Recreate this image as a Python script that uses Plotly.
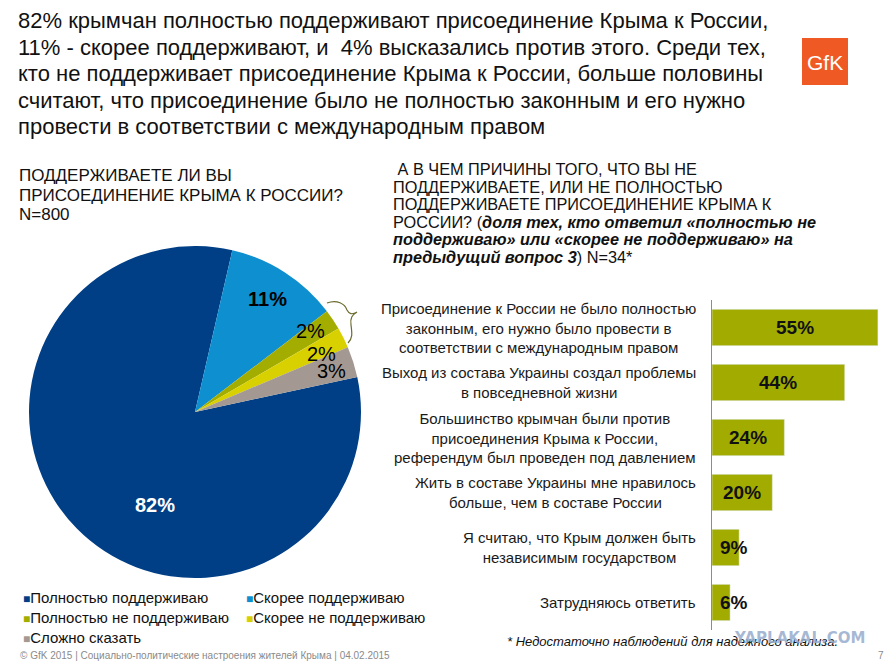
import math
import plotly.graph_objects as go

# the page body has an 8px default margin, so the figure is drawn 8px in from the corner
OFF = 8
W, H = 893 - OFF, 669 - OFF
FONT = "Arial, Liberation Sans, sans-serif"

# ---------- data ----------
pie_labels = ["Полностью поддерживаю", "Скорее поддерживаю", "Полностью не поддерживаю",
              "Скорее не поддерживаю", "Сложно сказать"]
pie_values = [82, 11, 2, 2, 3]
pie_colors = ["#003f86", "#0e8fd0", "#a3ad00", "#d9d000", "#a39892"]

bar_labels = [
    "Присоединение к России не было полностью<br>законным, его нужно было провести в<br>соответствии с международным правом",
    "Выход из состава Украины создал проблемы<br>в повседневной жизни",
    "Большинство крымчан были против<br>присоединения Крыма к России,<br>референдум был проведен под давлением",
    "Жить в составе Украины мне нравилось<br>больше, чем в составе России",
    "Я считаю, что Крым должен быть<br>независимым государством",
    "Затрудняюсь ответить",
]
bar_values = [55, 44, 24, 20, 9, 6]
BAR_COLOR = "#a2ac00"

title_lines = [
    "82% крымчан полностью поддерживают присоединение Крыма к России,",
    "11% - скорее поддерживают, и  4% высказались против этого. Среди тех,",
    "кто не поддерживает присоединение Крыма к России, больше половины",
    "считают, что присоединение было не полностью законным и его нужно",
    "провести в соответствии с международным правом",
]
left_q = ["ПОДДЕРЖИВАЕТЕ ЛИ ВЫ", "ПРИСОЕДИНЕНИЕ КРЫМА К РОССИИ?", "N=800"]
right_q = [
    "\u00a0А В ЧЕМ ПРИЧИНЫ ТОГО, ЧТО ВЫ НЕ",
    "ПОДДЕРЖИВАЕТЕ, ИЛИ НЕ ПОЛНОСТЬЮ",
    "ПОДДЕРЖИВАЕТЕ ПРИСОЕДИНЕНИЕ КРЫМА К",
    "РОССИИ? (<b><i>доля тех, кто ответил «полностью не</i></b>",
    "<b><i>поддерживаю» или «скорее не поддерживаю» на</i></b>",
    "<b><i>предыдущий вопрос 3</i></b>) N=34*",
]


def px(x):
    return (x - OFF) / W


def py(y):
    return 1 - (y - OFF) / H


# ---------- layout geometry (screen pixels) ----------
PIE_CX, PIE_CY, PIE_R = 195, 412, 166
BAR_X0 = 712
BAR_TOP, BAR_BOTTOM = 300, 630

fig = go.Figure()

total = sum(pie_values)
rotation = 13 + 360 * sum(pie_values[1:]) / total
fig.add_trace(go.Pie(
    labels=pie_labels, values=pie_values, sort=False, direction="clockwise",
    rotation=rotation, textinfo="none", hoverinfo="label+percent",
    marker=dict(colors=pie_colors, line=dict(width=0)),
    domain=dict(x=[px(PIE_CX - PIE_R), px(PIE_CX + PIE_R)],
                y=[py(PIE_CY + PIE_R), py(PIE_CY - PIE_R)]),
    showlegend=False,
))

fig.add_trace(go.Bar(
    x=bar_values, y=list(range(len(bar_values))), orientation="h",
    marker=dict(color=BAR_COLOR), width=0.66, hoverinfo="x",
    showlegend=False,
))

ann = []

# pie value labels
label_r = [0.61, 0.81, 0.85, 0.84, 0.86]
label_shift = [-22, 0, -1, 2, 1]
label_style = [("white", True), ("black", True), ("black", False), ("black", False), ("black", False)]
cum = 0
for v, rf, sh, (col, bold) in zip(pie_values, label_r, label_shift, label_style):
    mid = math.radians(rotation + 360 * (cum + v / 2) / total + sh)
    cum += v
    lx = PIE_CX + rf * PIE_R * math.sin(mid)
    ly = PIE_CY - rf * PIE_R * math.cos(mid)
    t = f"{v}%"
    ann.append(dict(x=px(lx), y=py(ly), xref="paper", yref="paper", showarrow=False,
                    xanchor="center", yanchor="middle",
                    text=f"<b>{t}</b>" if bold else t,
                    font=dict(size=20, color=col, family=FONT)))

# bar category labels and values
for i, (lab, v) in enumerate(zip(bar_labels, bar_values)):
    ann.append(dict(x=px(BAR_X0), xshift=-14, y=i, xref="paper", yref="y",
                    xanchor="right", align="center", showarrow=False, text=lab,
                    font=dict(size=15, color="#1a1a1a", family=FONT)))
    ann.append(dict(x=max(v / 2, 7.2), y=i, xref="x", yref="y", showarrow=False,
                    xanchor="center",
                    text=f"<b>{v}%</b>", font=dict(size=19, color="#111111", family=FONT)))


def add_lines(lines, x, y0, step, size, color="#111111"):
    for k, line in enumerate(lines):
        ann.append(dict(x=px(x), y=py(y0 + k * step), xref="paper", yref="paper",
                        xanchor="left", yanchor="middle", showarrow=False, text=line,
                        font=dict(size=size, color=color, family=FONT)))


add_lines(title_lines, 16, 21, 26.5, 22)
add_lines(left_q, 17, 175, 20, 17)
add_lines(right_q, 391, 169, 17.6, 16.3)

# legend
legend_pos = [(21, 597), (244, 597), (21, 617), (244, 617), (21, 637)]
for (lx, ly), lab, col in zip(legend_pos, pie_labels, pie_colors):
    ann.append(dict(x=px(lx), y=py(ly), xref="paper", yref="paper", xanchor="left",
                    yanchor="middle", showarrow=False,
                    text=f"<span style='color:{col};font-size:12px'>■</span>{lab}",
                    font=dict(size=15, color="#111111", family=FONT)))

# footnotes / footer
ann.append(dict(x=px(505), y=py(641), xref="paper", yref="paper", xanchor="left",
                yanchor="middle", showarrow=False,
                text="<i>* Недостаточно наблюдений для надежного анализа.</i>",
                font=dict(size=13, color="#111111", family=FONT)))
ann.append(dict(x=px(867), y=py(638), xref="paper", yref="paper", xanchor="right",
                yanchor="middle", showarrow=False, text="<b>YAPLAKAL.COM</b>",
                font=dict(size=15, color="rgba(150,172,205,0.85)", family="DejaVu Sans")))
ann.append(dict(x=px(18), y=py(655), xref="paper", yref="paper", xanchor="left",
                yanchor="middle", showarrow=False,
                text="© GfK 2015 | Социально-политические настроения жителей Крыма | 04.02.2015",
                font=dict(size=10, color="#8a8a8a", family=FONT)))
ann.append(dict(x=px(886), y=py(655), xref="paper", yref="paper", xanchor="right",
                yanchor="middle", showarrow=False, text="7",
                font=dict(size=10, color="#8a8a8a", family=FONT)))

# GfK logo
ann.append(dict(x=px(825), y=py(62), xref="paper", yref="paper", showarrow=False,
                xanchor="center", yanchor="middle",
                text="GfK", font=dict(size=21, color="white", family=FONT)))

shapes = [
    dict(type="rect", xref="paper", yref="paper", x0=px(802), x1=px(848), y0=py(85), y1=py(38),
         fillcolor="#ef5a24", line=dict(width=0), layer="below"),
    # brace next to the two "not supporting" slices
    dict(type="path", xref="paper", yref="paper",
         path=(f"M {px(327)},{py(303)} C {px(337)},{py(299)} {px(345)},{py(304)} {px(347)},{py(310)} "
               f"C {px(349)},{py(314)} {px(352)},{py(315)} {px(357)},{py(312)} "
               f"C {px(352)},{py(315)} {px(350)},{py(318)} {px(351)},{py(325)} "
               f"C {px(352)},{py(333)} {px(353)},{py(338)} {px(348)},{py(343)}"),
         line=dict(color="#6b6b2e", width=1.2)),
]

fig.update_layout(
    width=W, height=H, margin=dict(l=0, r=0, t=0, b=0),
    paper_bgcolor="white", plot_bgcolor="white",
    font=dict(family=FONT),
    xaxis=dict(domain=[px(BAR_X0), 1.0], range=[0, 60], visible=False, fixedrange=True),
    yaxis=dict(domain=[py(BAR_BOTTOM), py(BAR_TOP)], range=[5.5, -0.5],
               showticklabels=False, showgrid=False, zeroline=False, ticks="",
               showline=True, linecolor="#8c8c8c", linewidth=1),
    annotations=ann, shapes=shapes,
)

fig.write_html("out.html")
